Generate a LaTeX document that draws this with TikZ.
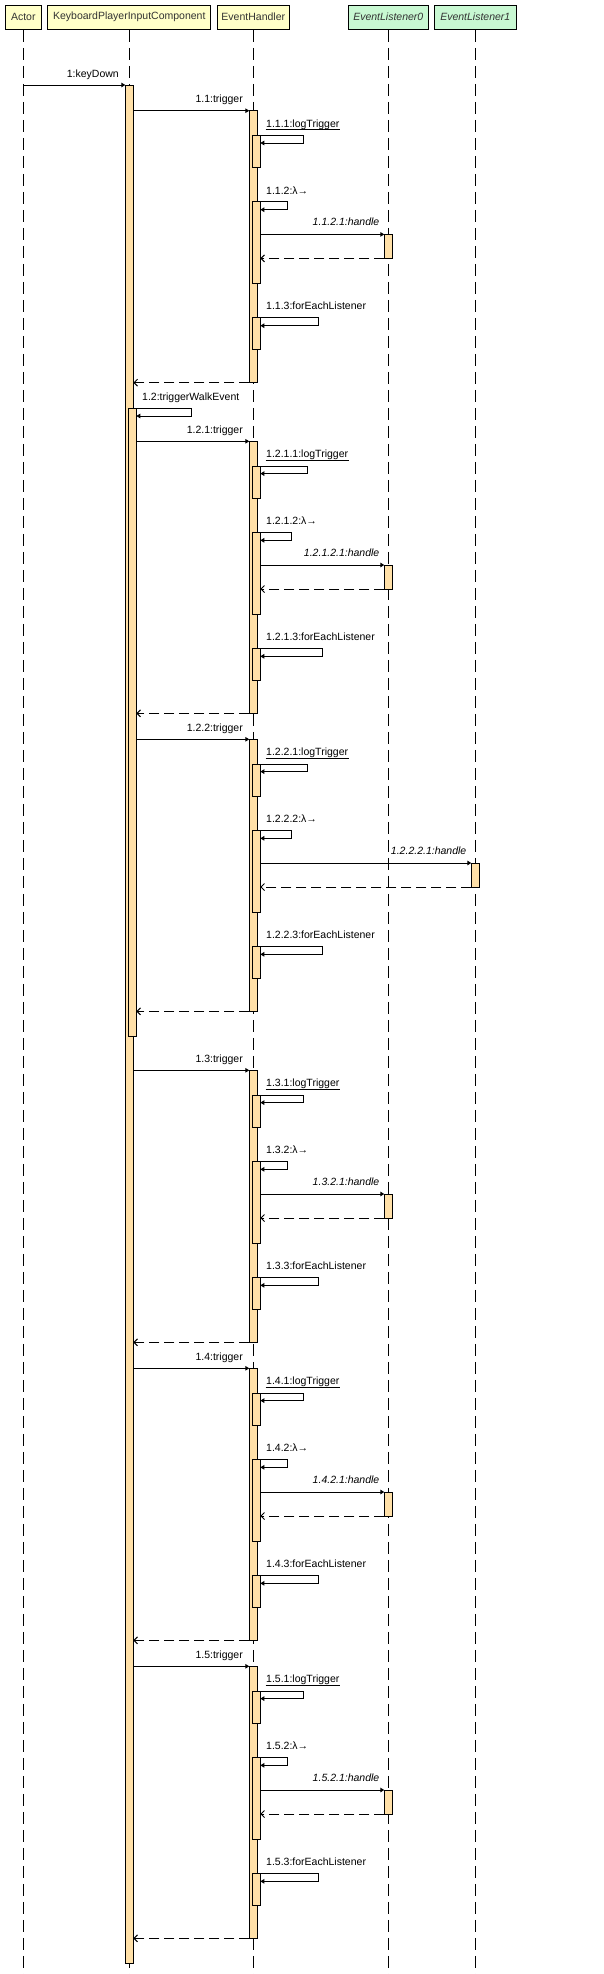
\documentclass[tikz,border=0pt]{standalone}
\usepackage{fontspec}
\setmainfont{Liberation Sans}
\usetikzlibrary{arrows.meta,positioning}
\usepackage{xcolor}
\definecolor{HeadYellow}{HTML}{FFFFC8}
\definecolor{HeadGreen}{HTML}{C8F8D2}
\definecolor{BarTan}{HTML}{FFE0A8}
\definecolor{DarkGray}{HTML}{333333}

\begin{document}
\begin{tikzpicture}[x=1pt,y=-1pt,line width=1pt,
    font=\fontsize{10.5}{12}\selectfont,
    head/.style={draw, fill=HeadYellow, minimum height=24.3pt, inner sep=0pt, text=DarkGray},
    listener/.style={head, fill=HeadGreen, font=\fontsize{10.5}{12}\selectfont\itshape},
    lifeline/.style={dash pattern=on 12pt off 6pt},
    bar/.style={draw, fill=BarTan, minimum width=8pt, inner sep=0pt, outer sep=0pt, anchor=north},
    call/.style={-{Triangle[length=4pt,width=4.5pt]}},
    reply/.style={-{Straight Barb[length=3.5pt,width=7pt]}, dash pattern=on 10pt off 5pt},
    lbl/.style={inner sep=0pt, anchor=base west},
    rlbl/.style={inner sep=0pt, anchor=base east},
    ilbl/.style={rlbl, font=\fontsize{10.5}{12}\selectfont\itshape}]
    \useasboundingbox (0,0) rectangle (603,1974);
    % Lifeline heads
    \node[head, minimum width=36pt] (actor) at (23.3,17.2) {Actor};
    \node[head, minimum width=163pt] (kpic) at (129.3,17.2) {KeyboardPlayerInputComponent};
    \node[head, minimum width=72.6pt] (eh) at (253.3,17.2) {EventHandler};
    \node[listener, minimum width=80.6pt] (el0) at (388.3,17.2) {EventListener0};
    \node[listener, minimum width=81.4pt] (el1) at (475.3,17.2) {EventListener1};
    % Lifelines
    \foreach \n in {actor,kpic,eh,el0,el1}
      \draw[lifeline] (\n.south) -- (\n.south |- 0,1974);
    % KeyboardPlayerInputComponent activations
    \node[bar, minimum height=1878.3pt] (kbar) at (129.3,85) {};
    \draw[call] (actor.south |- kbar.north) -- (kbar.north west);
    \node[rlbl] at ([xshift=-6pt,yshift=8pt]kbar.north west) {1:keyDown};
    \node[bar, minimum height=627.7pt] (kbar2) at (132.3,408.3) {};
    \node[lbl] at (141.7,400) {1.2:triggerWalkEvent};
    \draw[call] (kbar2.north east) -- ++(55.4,0) -- ++(0,7.7) -- ++(-55.4,0);
    % One trigger call per row: y / number / caller / listener / extra loop width
    \foreach \T/\p/\src/\lst/\dw [count=\i] in {110.7/1.1/kbar/el0/0, 441.3/1.2.1/kbar2/el0/4.5,
        739.3/1.2.2/kbar2/el1/4.5, 1070.3/1.3/kbar/el0/0, 1368.3/1.4/kbar/el0/0, 1666.3/1.5/kbar/el0/0} {
      \node[bar, minimum height=272pt] (eh\i) at (253.3,\T) {};
      \draw[call] (\src.east |- eh\i.north) -- (eh\i.north west);
      \node[rlbl] at ([xshift=-6pt,yshift=8pt]eh\i.north west) {\p:trigger};
      % logTrigger
      \node[bar, minimum height=32pt] (log\i) at (256.3,\T+24.7) {};
      \node[lbl] (lt\i) at (265.7,\T+16.5) {\p.1:logTrigger};
      \draw[line width=0.8pt] ([yshift=-2.2pt]lt\i.base west) -- ([yshift=-2.2pt]lt\i.base east);
      \draw[call] (log\i.north east) -- ++(43+\dw,0) -- ++(0,7.6) -- ++(-43-\dw,0);
      % lambda and handle
      \node[bar, minimum height=81.7pt] (lam\i) at (256.3,\T+91) {};
      \node[lbl] at (265.7,\T+83.3) {\p.2:λ→};
      \draw[call] (lam\i.north east) -- ++(27+\dw,0) -- ++(0,8) -- ++(-27-\dw,0);
      \node[bar, minimum height=24pt] (hd\i) at (\lst.south |- 0,\T+123.7) {};
      \draw[call] (lam\i.east |- hd\i.north) -- (hd\i.north west);
      \node[ilbl] at ([xshift=-4.5pt,yshift=8.7pt]hd\i.north west) {\p.2.1:handle};
      \draw[reply] (hd\i.south west) -- (lam\i.east |- hd\i.south);
      % forEachListener
      \node[bar, minimum height=32pt] (fe\i) at (256.3,\T+207) {};
      \node[lbl] at (265.7,\T+198.7) {\p.3:forEachListener};
      \draw[call] (fe\i.north east) -- ++(58+\dw,0) -- ++(0,8) -- ++(-58-\dw,0);
      % return
      \draw[reply] (eh\i.south west) -- (\src.east |- eh\i.south);
    }
  \end{tikzpicture}
\end{document}
